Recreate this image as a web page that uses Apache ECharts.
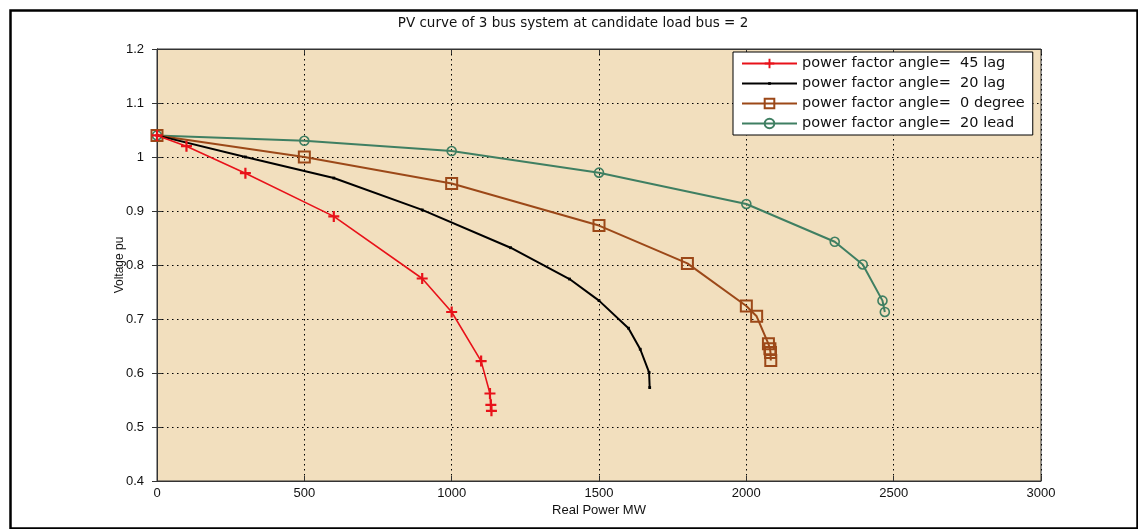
<!DOCTYPE html>
<html>
<head>
<meta charset="utf-8">
<script src="https://cdn.jsdelivr.net/npm/echarts@6/dist/echarts.min.js"></script>
<style>
html,body{margin:0;padding:0;background:#fff;}
#chart{width:1138px;height:529px;}
</style>
</head>
<body>
<div id="chart"></div>
<script>
// ---- data ----
const seriesNames = [
  'power factor angle=  45 lag',
  'power factor angle=  20 lag',
  'power factor angle=  0 degree',
  'power factor angle=  20 lead'
];
const p45lag = [0, 100, 300, 600, 900, 1000, 1100, 1130, 1133, 1135];
const v45lag = [1.04, 1.02, 0.97, 0.89, 0.775, 0.713, 0.622, 0.562, 0.541, 0.530];
const p20lag = [0, 300, 600, 900, 1200, 1400, 1500, 1600, 1640, 1670, 1672];
const v20lag = [1.04, 1.0, 0.961, 0.902, 0.832, 0.774, 0.734, 0.683, 0.644, 0.601, 0.573];
const p0deg  = [0, 500, 1000, 1500, 1800, 2000, 2035, 2075, 2080, 2082, 2083];
const v0deg  = [1.04, 1.0, 0.951, 0.873, 0.803, 0.724, 0.705, 0.654, 0.645, 0.638, 0.623];
const p20lead = [0, 500, 1000, 1500, 2000, 2300, 2395, 2462, 2470];
const v20lead = [1.04, 1.03, 1.011, 0.971, 0.913, 0.843, 0.801, 0.734, 0.713];
const xTicks = [0, 500, 1000, 1500, 2000, 2500, 3000];
const yTicks = [0.4, 0.5, 0.6, 0.7, 0.8, 0.9, 1.0, 1.1, 1.2];

function zip(a, b) { return a.map((v, i) => [v, b[i]]); }

const FONT = '"Liberation Sans", Arial, sans-serif';
const WIDE = '"DejaVu Sans", Verdana, sans-serif';
const plusPath = 'path://M4,0L6,0L6,4L10,4L10,6L6,6L6,10L4,10L4,6L0,6L0,4L4,4Z';
// small dot inside a 10x10 box (zero-length moves set the box)
const dotPath = 'path://M0,0L0,0M10,10L10,10M3.6,3.6L6.4,3.6L6.4,6.4L3.6,6.4Z';

const chart = echarts.init(document.getElementById('chart'), null, {renderer: 'canvas'});

const baseX = {
  type: 'value', min: xTicks[0], max: xTicks[xTicks.length - 1], interval: 500
};
const baseY = {
  type: 'value', min: yTicks[0], max: yTicks[yTicks.length - 1], interval: 0.1
};

const option = {
  backgroundColor: '#ffffff',
  animation: false,
  title: {
    text: 'PV curve of 3 bus system at candidate load bus = 2',
    left: 568, top: 11, textAlign: 'center',
    textStyle: {fontFamily: WIDE, fontSize: 13.5, fontWeight: 'normal', color: '#111'}
  },
  graphic: [{
    type: 'rect', left: 8, top: 8, silent: true, z: 100,
    shape: {width: 1127, height: 518},
    style: {fill: 'none', stroke: '#000', lineWidth: 2.5}
  }],
  legend: {
    orient: 'vertical', left: 733, top: 52,
    backgroundColor: '#ffffff', borderColor: '#000', borderWidth: 1,
    padding: [4, 8, 4, 8], itemGap: 5, itemWidth: 55, itemHeight: 12,
    textStyle: {fontFamily: WIDE, fontSize: 14.5, color: '#111'},
    data: seriesNames
  },
  grid: {
    left: 157, right: 97, top: 49, bottom: 48,
    show: true, backgroundColor: '#f2dfbe', borderColor: '#333', borderWidth: 1
  },
  xAxis: [
    Object.assign({}, baseX, {
      position: 'bottom',
      name: 'Real Power MW', nameLocation: 'middle', nameGap: 23,
      nameMoveOverlap: false,
      nameTextStyle: {fontFamily: FONT, fontSize: 13, color: '#111'},
      axisLine: {show: true, lineStyle: {color: '#333'}},
      axisTick: {show: true, inside: true, length: 5, lineStyle: {color: '#333'}},
      axisLabel: {fontFamily: FONT, fontSize: 13, color: '#111', margin: 6,
        formatter: v => String(v)},
      splitLine: {show: true, lineStyle: {color: '#000', type: [1.5, 3.5], width: 1}}
    }),
    Object.assign({}, baseX, {
      position: 'top',
      axisLine: {show: true, lineStyle: {color: '#333'}},
      axisTick: {show: true, inside: true, length: 5, lineStyle: {color: '#333'}},
      axisLabel: {show: false},
      splitLine: {show: false}
    })
  ],
  yAxis: [
    Object.assign({}, baseY, {
      position: 'left',
      name: 'Voltage pu', nameLocation: 'middle', nameGap: 31,
      nameMoveOverlap: false,
      nameTextStyle: {fontFamily: FONT, fontSize: 12, color: '#111'},
      axisLine: {show: true, lineStyle: {color: '#333'}},
      axisTick: {show: true, inside: true, length: 5, lineStyle: {color: '#333'}},
      axisLabel: {fontFamily: FONT, fontSize: 13, color: '#111', margin: 13,
        formatter: v => (Math.round(v * 10) / 10).toString()},
      splitLine: {show: true, lineStyle: {color: '#000', type: [1.5, 3.5], width: 1}}
    }),
    Object.assign({}, baseY, {
      position: 'right',
      axisLine: {show: true, lineStyle: {color: '#333'}},
      axisTick: {show: true, inside: true, length: 5, lineStyle: {color: '#333'}},
      axisLabel: {show: false},
      splitLine: {show: false}
    })
  ],
  series: [
    {
      name: seriesNames[0], type: 'line', xAxisIndex: 0, yAxisIndex: 0,
      data: zip(p45lag, v45lag),
      symbol: plusPath, symbolSize: 11, showAllSymbol: true,
      lineStyle: {color: '#e8121a', width: 1.6},
      itemStyle: {color: '#e8121a'}, z: 5
    },
    {
      name: seriesNames[1], type: 'line', xAxisIndex: 0, yAxisIndex: 0,
      data: zip(p20lag, v20lag),
      symbol: dotPath, symbolSize: 10, showAllSymbol: true,
      lineStyle: {color: '#000', width: 2},
      itemStyle: {color: '#000'}, z: 4
    },
    {
      name: seriesNames[2], type: 'line', xAxisIndex: 0, yAxisIndex: 0,
      data: zip(p0deg, v0deg),
      symbol: 'rect', symbolSize: 11, showAllSymbol: true,
      lineStyle: {color: '#9c4818', width: 2},
      itemStyle: {color: 'rgba(0,0,0,0)', borderColor: '#9c4818', borderWidth: 2}, z: 3
    },
    {
      name: seriesNames[3], type: 'line', xAxisIndex: 0, yAxisIndex: 0,
      data: zip(p20lead, v20lead),
      symbol: 'circle', symbolSize: 9, showAllSymbol: true,
      lineStyle: {color: '#3f7f62', width: 2},
      itemStyle: {color: 'rgba(0,0,0,0)', borderColor: '#3f7f62', borderWidth: 1.6}, z: 2
    }
  ]
};
chart.setOption(option);
</script>
</body>
</html>
